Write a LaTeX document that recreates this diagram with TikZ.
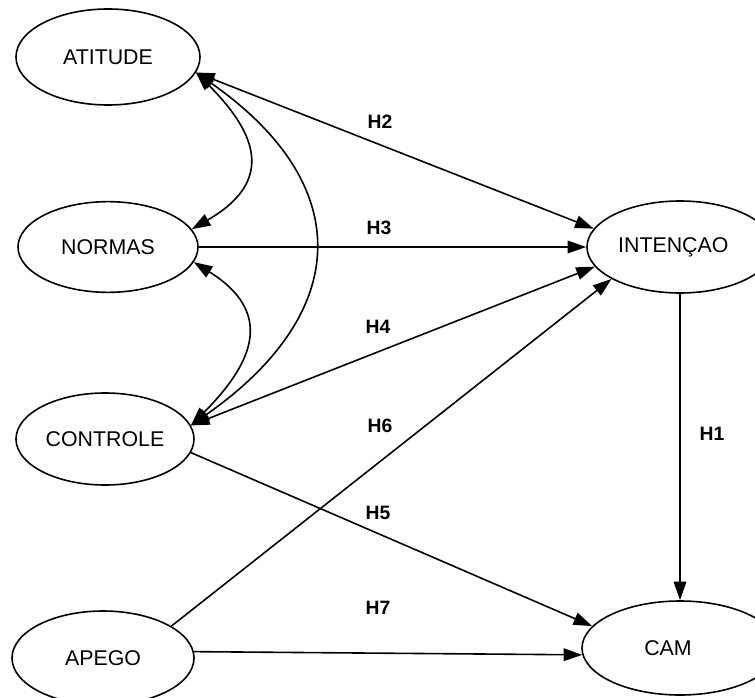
\documentclass[tikz,border=0pt]{standalone}
\usepackage{fontspec}
\setmainfont{Liberation Sans}
\usetikzlibrary{arrows.meta,shapes.geometric}

\begin{document}
\begin{tikzpicture}[x=0.75pt,y=0.75pt,
    var/.style={ellipse,draw,line width=1.2pt,inner sep=0pt,font=\fontsize{16}{19}\selectfont},
    hyp/.style={font=\bfseries\fontsize{14.5}{17}\selectfont},
    seta/.style={line width=1.2pt,-{Triangle[length=14pt,width=9.5pt]}},
    dupla/.style={line width=1.2pt,{Triangle[length=14pt,width=9.5pt]}-{Triangle[length=14pt,width=9.5pt]}}]
\useasboundingbox (0,0) rectangle (755,697);
\node[var,minimum width=138pt,minimum height=72pt] (atitude) at (108,640) {ATITUDE};
\node[var,minimum width=135pt,minimum height=68pt] (normas) at (108,450) {NORMAS};
\node[var,minimum width=133.5pt,minimum height=69pt] (controle) at (105,258) {CONTROLE};
\node[var,minimum width=136.5pt,minimum height=70.5pt] (apego) at (103,39) {APEGO};
\node[var,minimum width=139.5pt,minimum height=69pt] (intencao) at (680,450) {\hspace*{-10pt}INTEN\c{C}AO};
\node[var,minimum width=147pt,minimum height=70.5pt] (cam) at (680,49) {\hspace*{-18pt}CAM};
\draw[dupla] (atitude.-10) to[out=-45,in=30,looseness=1.5] (normas.12);
\draw[dupla] (normas.-10) to[out=-32,in=45,looseness=1.45] (controle.9);
\draw[dupla] (atitude.-10) to[out=-35,in=35,looseness=1.42] (controle.9);
\draw[dupla] (atitude.-10) -- (intencao.168);
\draw[seta] (normas.east) -- (intencao.west);
\draw[dupla] (controle.9) -- (intencao.193);
\draw[seta] (apego.25) -- (intencao.205);
\draw[seta] (controle.-9) -- (cam.166);
\draw[seta] (apego.4) -- (cam.184);
\draw[seta] (intencao.south) -- (cam.north);
\node[hyp] (h2) at (380,575) {H2};
\node[hyp] (h3) at (379,469) {H3};
\node[hyp] (h4) at (378,370) {H4};
\node[hyp] (h6) at (380,271) {H6};
\node[hyp] (h5) at (378,184) {H5};
\node[hyp] (h7) at (378,89) {H7};
\node[hyp] (h1) at (712,263) {H1};
\end{tikzpicture}
\end{document}
